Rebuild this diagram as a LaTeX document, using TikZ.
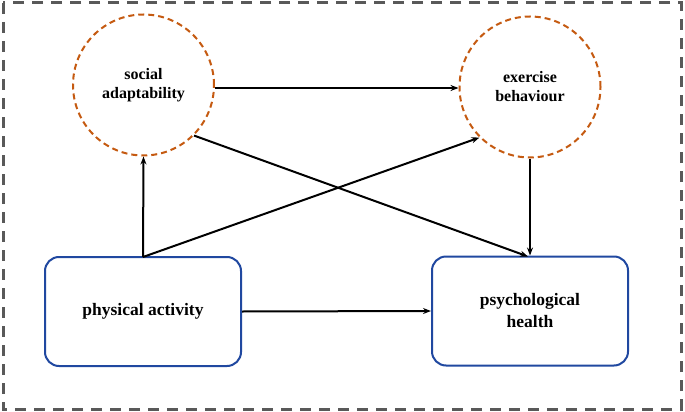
\documentclass[tikz,border=0pt]{standalone}
\usepackage{fontspec}
\setmainfont{Liberation Serif}
\usetikzlibrary{arrows.meta}
\definecolor{orangec}{RGB}{197,90,17}
\definecolor{bluec}{RGB}{32,72,160}
\definecolor{grayc}{RGB}{89,89,89}
\begin{document}
\begin{tikzpicture}[x=1pt,y=-1pt,
  latent/.style={circle,draw=orangec,line width=2pt,dash pattern=on 6pt off 4pt,minimum size=141pt,inner sep=0pt,align=center,font=\fontsize{16}{19}\selectfont\bfseries},
  obsbox/.style={rectangle,rounded corners=14pt,draw=bluec,line width=2pt,minimum width=196pt,minimum height=109pt,align=center,font=\fontsize{17.5}{22}\selectfont\bfseries},
  conn/.style={-{Stealth[length=8pt,width=6pt]},line width=2pt,black}]
\useasboundingbox (0,0) rectangle (685,412);
\draw[grayc,line width=3pt,dash pattern=on 11pt off 8pt] (3,3) rectangle (681,409);
\node[latent] (sa) at (143.5,85) {social\\adaptability};
\node[latent] (eb) at (530,87) {exercise\\behaviour};
\node[obsbox] (pa) at (143,311.5) {physical activity};
\node[obsbox] (ph) at (530,311) {psychological\\health};
\coordinate (patop) at (143,257);
\coordinate (phtop) at (528,256.5);
\draw[conn] (sa.east |- 0,88) -- (eb.west |- 0,88);
\draw[conn] (sa.-45) -- (phtop);
\draw[conn] (patop) -- (sa.south);
\draw[conn] (patop) -- (eb.-135);
\draw[conn] (eb.south) -- (ph.north);
\draw[conn] (pa.east) -- (ph.west);
\end{tikzpicture}
\end{document}
